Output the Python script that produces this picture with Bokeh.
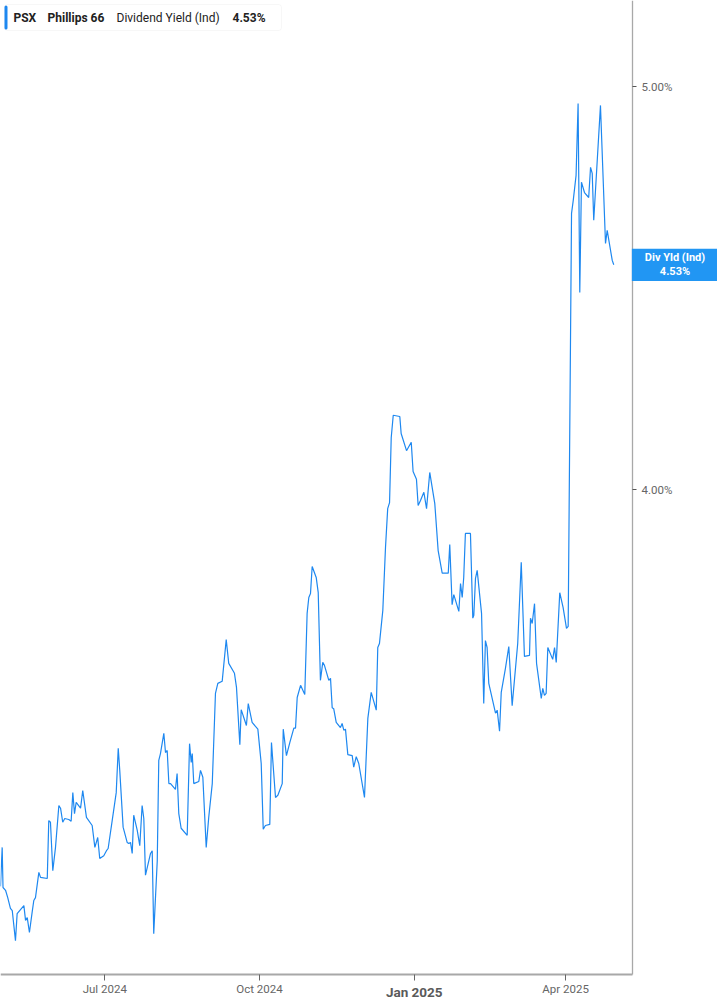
import pandas as pd
from bokeh.plotting import figure
from bokeh.models import (Range1d, FixedTicker, PrintfTickFormatter, Label,
                          BoxAnnotation, DatetimeTickFormatter)
from bokeh.embed import file_html
from bokeh.resources import INLINE

# ---------------- data ----------------
start_date = "2024-04-30"
day_offsets = [0.0,1.0,1.5,3.0,4.3,5.9,7.0,8.9,9.9,13.9,
 14.9,15.9,17.2,18.8,19.8,20.8,22.8,23.8,27.8,28.7,
 29.7,31.1,32.7,34.7,35.7,37.0,38.2,40.6,42.0,43.0,
 44.0,45.0,47.6,48.9,51.1,54.5,56.1,57.8,59.0,61.4,
 63.0,64.0,66.4,68.8,70.0,70.9,72.9,75.3,76.3,77.3,
 78.3,79.2,81.3,82.8,84.2,85.2,86.2,89.2,90.2,91.1,
 93.2,94.1,95.1,97.1,98.1,99.1,100.1,101.1,104.0,105.0,
 106.0,107.4,111.0,112.4,113.4,114.0,114.9,117.9,118.9,120.3,
 122.3,123.8,125.9,127.8,129.2,131.8,134.2,135.7,139.1,140.3,
 142.3,143.1,146.2,147.3,149.6,153.0,155.0,156.2,157.5,160.1,
 161.1,163.5,164.9,167.5,168.1,170.0,172.0,174.4,175.4,176.4,
 178.4,180.9,182.3,183.3,184.3,185.3,187.7,188.9,190.2,191.6,
 192.6,195.2,196.2,197.2,198.1,199.6,202.1,203.1,204.1,205.1,
 206.5,209.1,210.0,211.5,213.0,216.4,218.4,220.4,223.4,224.3,
 225.3,227.3,228.9,230.2,231.3,232.3,233.5,237.4,238.2,241.4,
 244.2,245.3,247.3,248.3,249.7,251.7,253.3,255.2,258.2,260.2,
 262.6,266.2,267.1,268.5,269.5,272.5,273.5,274.5,275.4,276.4,
 279.4,280.8,281.4,282.4,283.4,286.0,287.3,288.3,289.3,290.3,
 294.3,295.3,296.7,297.7,300.2,302.2,304.2,307.5,309.6,311.5,
 314.5,315.1,316.1,317.5,318.7,321.5,322.4,323.4,324.4,325.4,
 328.3,329.4,330.4,332.5,334.5,336.5,337.5,339.5,340.5,342.2,
 343.4,344.4,345.4,347.2,349.7,350.8,351.8,352.7,356.7,359.7,
 360.7,363.7,364.6]

div_yield = [3.211,3.281,3.209,3.204,3.191,3.172,3.168,3.116,3.163,3.177,
 3.151,3.156,3.130,3.165,3.186,3.191,3.236,3.227,3.225,3.330,
 3.327,3.239,3.281,3.358,3.353,3.327,3.334,3.332,3.329,3.382,
 3.343,3.364,3.353,3.386,3.336,3.321,3.281,3.299,3.261,3.266,
 3.275,3.279,3.330,3.382,3.466,3.424,3.318,3.290,3.288,3.290,
 3.270,3.340,3.312,3.284,3.358,3.334,3.231,3.270,3.275,3.128,
 3.257,3.443,3.456,3.495,3.458,3.462,3.399,3.399,3.388,3.418,
 3.343,3.316,3.303,3.475,3.439,3.456,3.399,3.403,3.424,3.411,
 3.281,3.336,3.399,3.573,3.593,3.597,3.681,3.633,3.613,3.585,
 3.473,3.541,3.510,3.553,3.516,3.503,3.437,3.314,3.321,3.323,
 3.477,3.373,3.377,3.399,3.503,3.452,3.477,3.505,3.505,3.565,
 3.589,3.571,3.735,3.768,3.776,3.833,3.810,3.778,3.599,3.635,
 3.629,3.599,3.603,3.545,3.543,3.516,3.506,3.514,3.501,3.503,
 3.454,3.452,3.430,3.450,3.437,3.373,3.524,3.575,3.540,3.665,
 3.673,3.741,3.874,3.958,3.971,4.117,4.168,4.165,4.126,4.087,
 4.106,4.040,4.023,3.965,3.976,3.994,3.958,4.038,3.969,3.867,
 3.819,3.819,3.880,3.753,3.774,3.739,3.797,3.768,3.810,3.904,
 3.904,3.725,3.731,3.808,3.825,3.735,3.553,3.679,3.665,3.593,
 3.534,3.540,3.499,3.575,3.623,3.667,3.549,3.673,3.842,3.647,
 3.649,3.725,3.714,3.755,3.633,3.563,3.583,3.569,3.573,3.665,
 3.641,3.665,3.635,3.778,3.747,3.704,3.708,4.661,4.694,4.760,
 4.953,4.461,4.742,4.715,4.702,4.781,4.765,4.643,4.948,4.584,
 4.617,4.541,4.530]

tick_dates = ["2024-07-01", "2024-10-01", "2025-01-01", "2025-04-01"]
tick_labels = ["Jul 2024", "Oct 2024", "Jan 2025", "Apr 2025"]
y_ticks = [4.0, 5.0]

ticker_name = "PSX"
company = "Phillips 66"
metric = "Dividend Yield (Ind)"
tag_name = "Div Yld (Ind)"
last_value = div_yield[-1]

# ---------------- figure ----------------
W, H = 717, 1005
t0 = pd.Timestamp(start_date)
dates = [t0 + pd.Timedelta(days=d) for d in day_offsets]
MS_DAY = 86400000.0
t0_ms = t0.value / 1e6
x_end_ms = t0_ms + 426.28 * MS_DAY        # right edge of canvas
x_axis_end_ms = t0_ms + 375.74 * MS_DAY   # where the value axis sits
y_top, y_bottom = 5.2439, 3.006           # canvas top / bottom (log scale)
y_axis_low = 3.058                        # where the date axis sits

FONT = "Roboto"
LINE_BLUE = "#1e88f0"
AXIS_GRAY = "#a8a8a8"

p = figure(width=W, height=H, x_axis_type="datetime", y_axis_type="log",
           y_axis_location="right", output_backend="svg", toolbar_location=None,
           x_range=Range1d(t0_ms, x_end_ms), y_range=Range1d(y_bottom, y_top),
           min_border_left=0, min_border_top=0, min_border_right=0,
           min_border_bottom=0, background_fill_color="white",
           border_fill_color="white")
p.outline_line_color = None
p.grid.visible = False

p.line(dates, div_yield, line_color=LINE_BLUE, line_width=1.2)

# value axis (right side, fixed at its location)
ya = p.yaxis[0]
ya.fixed_location = x_axis_end_ms
ya.bounds = (y_axis_low, y_top)
ya.ticker = FixedTicker(ticks=y_ticks, minor_ticks=[])
ya.formatter = PrintfTickFormatter(format="%.2f%%")
ya.axis_line_color = AXIS_GRAY
ya.axis_line_width = 1.3
ya.major_tick_in = 0
ya.major_tick_out = 4
ya.major_tick_line_color = "#555555"
ya.minor_tick_line_color = None
ya.major_label_standoff = 5
ya.major_label_text_font = FONT
ya.major_label_text_font_size = "11.5px"
ya.major_label_text_color = "#666666"

# date axis (bottom, fixed at its location)
tick_ms = [pd.Timestamp(d).value / 1e6 for d in tick_dates]
xa = p.xaxis[0]
xa.fixed_location = y_axis_low
xa.bounds = (t0_ms, x_axis_end_ms)
xa.ticker = FixedTicker(ticks=tick_ms, minor_ticks=[])
xa.formatter = DatetimeTickFormatter(months="%b %Y", days="%b %Y")
xa.major_label_overrides = {ms: ("" if lab.startswith("Jan") else lab)
                            for ms, lab in zip(tick_ms, tick_labels)}
xa.axis_line_color = AXIS_GRAY
xa.axis_line_width = 2
xa.major_tick_in = 0
xa.major_tick_out = 6
xa.major_tick_line_color = "#666666"
xa.minor_tick_line_color = None
xa.major_label_standoff = 1
xa.major_label_text_font = FONT
xa.major_label_text_font_size = "11.5px"
xa.major_label_text_color = "#666666"

# bold year label
for ms, lab in zip(tick_ms, tick_labels):
    if lab.startswith("Jan"):
        p.add_layout(Label(x=ms, y=H - 983, x_units="data", y_units="screen",
                           text=lab, text_align="center", text_baseline="top",
                           text_font=FONT, text_font_size="13.5px",
                           text_font_style="bold", text_color="#5a5a5a"))

# last value tag next to the value axis
tag = Label(x=674.5, y=last_value, x_units="screen", y_units="data",
            text="%s\n%.2f%%" % (tag_name, last_value),
            text_align="center", text_baseline="middle",
            text_font=FONT, text_font_size="11px",
            text_font_style="bold", text_color="white",
            background_fill_color="#2196f3", background_fill_alpha=1.0,
            text_line_height=1.1, level="overlay")
try:
    tag.padding = dict(left=13, right=13, top=2, bottom=3)
except Exception:
    tag.padding = 3
p.add_layout(tag)

# legend box top-left
p.add_layout(BoxAnnotation(left=4, right=281, top=H - 4, bottom=H - 30,
                           left_units="screen", right_units="screen",
                           top_units="screen", bottom_units="screen",
                           fill_color="white", fill_alpha=1.0,
                           line_color="#e3e3e3", line_width=1,
                           border_radius=3, level="overlay"))
p.add_layout(BoxAnnotation(left=4, right=7, top=H - 5, bottom=H - 29,
                           left_units="screen", right_units="screen",
                           top_units="screen", bottom_units="screen",
                           fill_color=LINE_BLUE, fill_alpha=1.0,
                           line_color=None, border_radius=2, level="overlay"))
legend_parts = [(13, ticker_name, "bold"), (47, company, "bold"),
                (116, metric, "normal"), (232, "%.2f%%" % last_value, "bold")]
for xs, txt, style in legend_parts:
    p.add_layout(Label(x=xs, y=H - 17, x_units="screen", y_units="screen",
                       text=txt, text_align="left", text_baseline="middle",
                       text_font=FONT, text_font_size="12px",
                       text_font_style=style, text_color="#222222",
                       level="overlay"))

open("out.html", "w").write(file_html(p, INLINE))
